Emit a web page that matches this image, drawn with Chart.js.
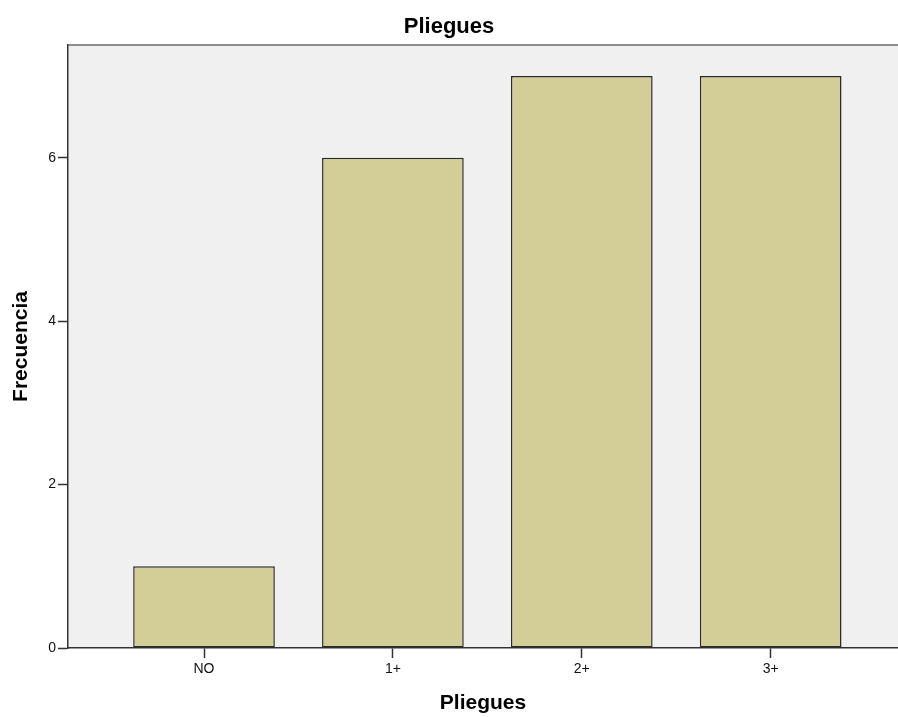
<!DOCTYPE html>
<html>
<head>
<meta charset="utf-8">
<script src="https://cdn.jsdelivr.net/npm/chart.js@4/dist/chart.umd.min.js"></script>
<style>
  html, body { margin: 0; padding: 0; background: #fff; overflow: hidden; }
  #wrap { width: 898px; height: 717px; }
</style>
</head>
<body>
<div id="wrap"><canvas id="plieguesChart" width="898" height="717"></canvas></div>
<script>
// Frecuencias por categoría de pliegues
const categorias = ['NO', '1+', '2+', '3+'];
const frecuencias = [1, 6, 7, 7];
const ticksY = [0, 2, 4, 6];

const FONT = "'Liberation Sans', Arial, sans-serif";

// fondo gris del área de trazado y borde superior
const plotFrame = {
    id: 'plotFrame',
    beforeDraw(chart) {
        const { ctx, chartArea: a } = chart;
        ctx.save();
        ctx.fillStyle = '#f0f0f0';
        ctx.fillRect(a.left, a.top, a.right - a.left, a.bottom - a.top);
        ctx.strokeStyle = '#8c8c8c';
        ctx.lineWidth = 2;
        ctx.beginPath();
        ctx.moveTo(a.left, a.top);
        ctx.lineTo(a.right, a.top);
        ctx.stroke();
        ctx.restore();
    }
};

new Chart(document.getElementById('plieguesChart'), {
    type: 'bar',
    data: {
        datasets: [{
            label: 'Frecuencia',
            data: frecuencias.map((v, i) => ({ x: i, y: v })),
            backgroundColor: '#d3ce98',
            borderColor: '#2a2a2a',
            borderWidth: 1.5,
            borderSkipped: false,
            barPercentage: 0.75,
            categoryPercentage: 1
        }]
    },
    options: {
        responsive: false,
        animation: false,
        layout: { padding: 0 },
        plugins: {
            legend: { display: false },
            tooltip: { enabled: false },
            title: {
                display: true,
                text: 'Pliegues',
                color: '#000',
                font: { family: FONT, size: 22, weight: 'bold' },
                padding: { top: 14, bottom: 4.6 }
            }
        },
        scales: {
            x: {
                type: 'linear',
                offset: false,
                min: -0.72,
                max: 3.674,
                afterFit: s => { s.height = 69; },
                afterBuildTicks: s => { s.ticks = categorias.map((c, i) => ({ value: i })); },
                ticks: {
                    callback: v => categorias[v],
                    color: '#111',
                    font: { family: FONT, size: 14 },
                    padding: 3,
                    maxRotation: 0,
                    autoSkip: false
                },
                grid: { offset: false, drawOnChartArea: false, drawTicks: true, tickLength: 10, tickColor: '#333', tickWidth: 1.5 },
                border: { display: true, color: '#333', width: 1.5 },
                title: {
                    display: true,
                    text: 'Pliegues',
                    color: '#000',
                    font: { family: FONT, size: 21, weight: 'bold' },
                    padding: { top: 0, bottom: 1 }
                }
            },
            y: {
                min: 0,
                max: 7.38,
                afterFit: s => { s.width = 68; },
                afterBuildTicks: s => { s.ticks = ticksY.map(v => ({ value: v })); },
                ticks: {
                    color: '#111',
                    font: { family: FONT, size: 14 },
                    padding: 2
                },
                grid: { drawOnChartArea: false, drawTicks: true, tickLength: 10, tickColor: '#333', tickWidth: 1.5 },
                border: { display: true, color: '#333', width: 1.5 },
                title: {
                    display: true,
                    text: 'Frecuencia',
                    color: '#000',
                    font: { family: FONT, size: 21, weight: 'bold' },
                    padding: { top: 9, bottom: 0 }
                }
            }
        }
    },
    plugins: [plotFrame]
});
</script>
</body>
</html>
